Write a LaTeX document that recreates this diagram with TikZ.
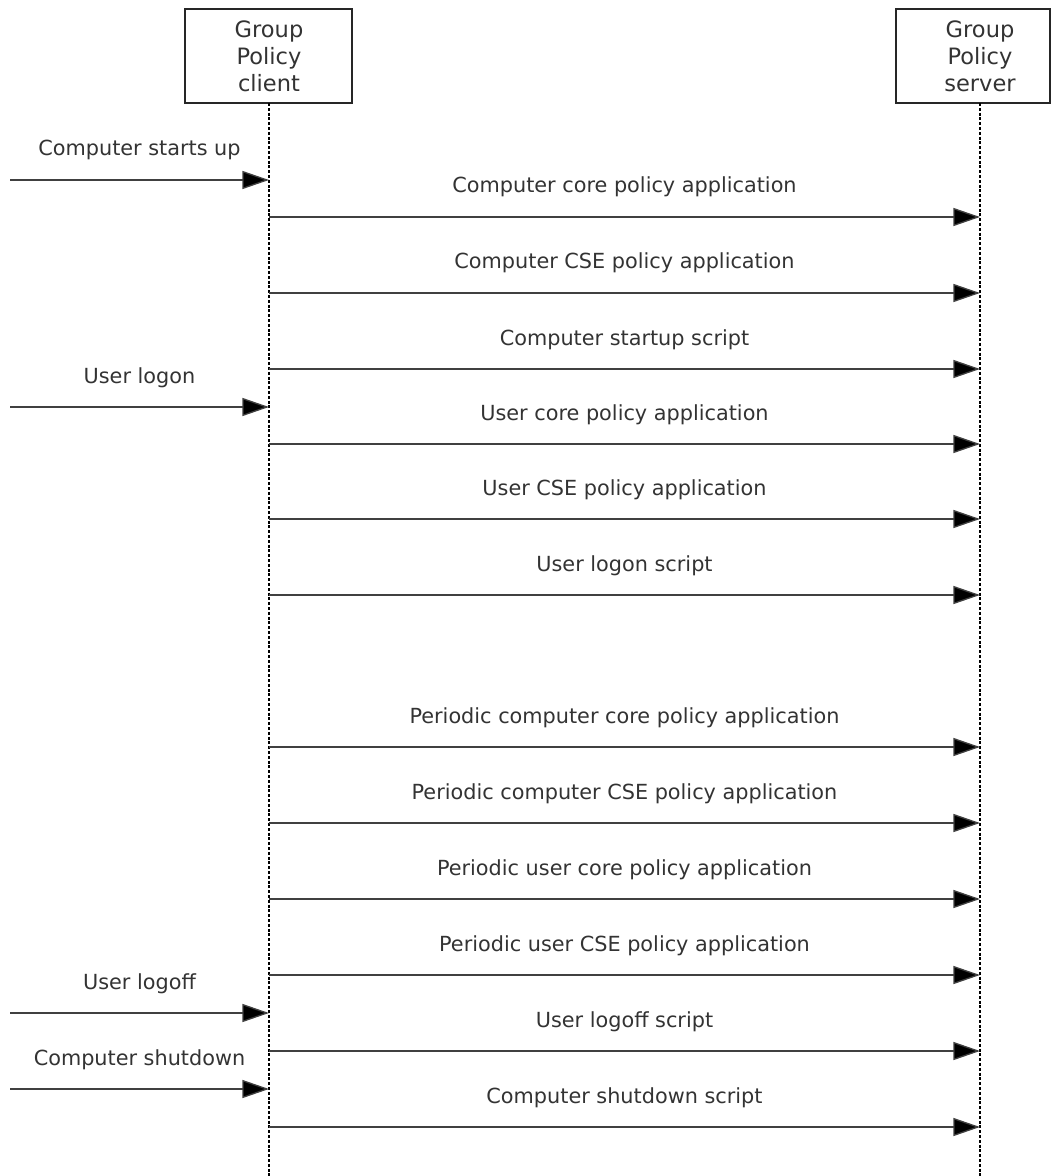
\documentclass[tikz,border=0pt]{standalone}
\usepackage{fontspec}
\setmainfont{DejaVu Sans}
\usetikzlibrary{arrows.meta}
\begin{document}
\begin{tikzpicture}[x=0.75pt,y=-0.75pt,
  box/.style={draw=black!85, line width=0.8pt, minimum height=70.5pt, inner sep=0pt},
  hdr/.style={align=center, font=\fontsize{16.9pt}{20.3pt}\selectfont, text=black!80, inner sep=0pt},
  lifeline/.style={draw=black, line width=0.8pt, dash pattern=on 2.2pt off 1.4pt},
  msg/.style={draw=black!75, line width=1pt, -{Triangle[length=20pt,width=13.5pt,fill=black]}},
  lbl/.style={anchor=base, font=\fontsize{15.6pt}{18pt}\selectfont, text=black!80, inner sep=0pt}]
\useasboundingbox (0,0) rectangle (1051,1176);
% participants
\node[box, minimum width=125.25pt] (client) at (268.5,56) {};
\node[hdr] (clientt) at (269,56) {Group\\Policy\\client};
\node[box, minimum width=115.5pt] (server) at (973,56) {};
\node[hdr] (servert) at (980,56) {Group\\Policy\\server};
\coordinate (cl) at (269,103);
\coordinate (sl) at (980,103);
\coordinate (clend) at (269,1176);
\coordinate (slend) at (980,1176);
\draw[lifeline] (cl) -- (clend);
\draw[lifeline] (sl) -- (slend);
% external events
\foreach \n/\y/\t in {e1/180/Computer starts up, e2/407/User logon, e3/1013/User logoff, e4/1089/Computer shutdown}{
  \coordinate (\n s) at (10,\y);
  \coordinate (\n e) at (269,\y);
  \draw[msg] (\n s) -- (\n e) node[lbl, midway, yshift=18pt] (\n l) {\t};
}
% messages
\foreach \n/\y/\t in {m1/217/Computer core policy application,
  m2/293/Computer CSE policy application,
  m3/369/Computer startup script,
  m4/444/User core policy application,
  m5/519/User CSE policy application,
  m6/595/User logon script,
  m7/747/Periodic computer core policy application,
  m8/823/Periodic computer CSE policy application,
  m9/899/Periodic user core policy application,
  m10/975/Periodic user CSE policy application,
  m11/1051/User logoff script,
  m12/1127/Computer shutdown script}{
  \coordinate (\n s) at (269,\y);
  \coordinate (\n e) at (980,\y);
  \draw[msg] (\n s) -- (\n e) node[lbl, midway, yshift=18pt] (\n l) {\t};
}
\end{tikzpicture}
\end{document}
